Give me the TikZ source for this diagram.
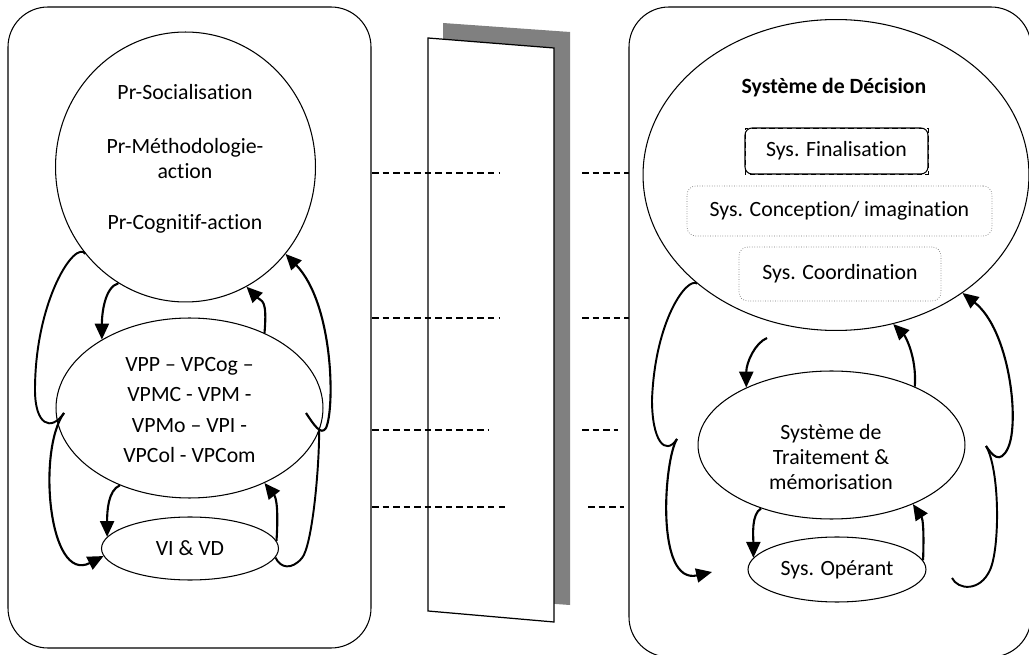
\documentclass[tikz,border=0pt]{standalone}
\usepackage{fontspec}
\setmainfont{Carlito}[Ligatures=NoCommon]
\usetikzlibrary{arrows.meta, shapes.geometric}

\begin{document}
\begin{tikzpicture}[
        x=0.02cm, y=-0.02cm,
        font=\fontsize{12.4}{14.2}\selectfont,
        panel/.style={draw, line width=0.6pt, rounded corners=0.8cm},
        bubble/.style={draw, ellipse, line width=0.6pt, inner sep=0pt, align=center},
        txt/.style={align=center, inner sep=0pt},
        subsys/.style={draw=black!55, densely dotted, line width=0.4pt, rounded corners=5pt, inner sep=0pt},
        flow/.style={line width=1.2pt, -{Triangle[length=9pt,width=8pt]}},
        feedback/.style={line width=1.1pt},
        link/.style={line width=0.9pt, dash pattern=on 3.7pt off 2.3pt}
    ]
    \useasboundingbox (0,0) rectangle (1029,655);
    \clip (0,0) rectangle (1029,655);

    \draw[panel] (8,7) rectangle (371,648);
    \draw[panel] (629,7) rectangle (1031,657);

    \fill[black!50] (443,23) -- (570,32) -- (570,605) -- (443,596) -- cycle;
    \draw[line width=0.7pt, fill=white] (428,38) -- (554,48) -- (554,622) -- (428,611) -- cycle;

    \foreach \y/\xa/\xb/\xc in {173/500/582/629, 318/500/582/629, 430/489/582/618, 507/506/588/624} {
        \draw[link] (372,\y) -- (\xa,\y);
        \draw[link] (\xb,\y) -- (\xc,\y);
    }

    \node[bubble, minimum width=5.2cm, minimum height=5.4cm] (prs) at (185.5,167) {};
    \node[txt] (prs-txt) at (185,159) {Pr-Socialisation\\[16.4pt]Pr-Méthodologie-\\action\\[14.7pt]Pr-Cognitif-action};
    \node[bubble, minimum width=5.34cm, minimum height=3.6cm] (vpp) at (189.5,408) {};
    \node[txt] (vpp-txt) at (189.5,410) {VPP – VPCog –\\[3pt]VPMC - VPM -\\[3pt]VPMo – VPI -\\[3pt]VPCol - VPCom};
    \node[bubble, minimum width=3.54cm, minimum height=1.26cm] (vivd) at (190,548.5) {VI \& VD};

    \node[bubble, minimum width=7.72cm, minimum height=6.22cm] (dec) at (836,175) {};
    \node[txt, font=\fontsize{12.4}{14.2}\selectfont\bfseries] (dec-txt) at (834,88) {Système de Décision};
    \node[draw, rounded corners=4pt, line width=0.6pt, minimum width=3.66cm, minimum height=0.92cm, inner sep=0pt, outer sep=0pt] (fin) at (836.5,151) {Sys. Finalisation};
    \draw[densely dashed, line width=0.5pt] (fin.south west) rectangle (fin.north east);
    \node[subsys, minimum width=6.1cm, minimum height=1cm] (con) at (839.5,211) {Sys. Conception/ imagination};
    \node[subsys, minimum width=4.04cm, minimum height=1.08cm] (coo) at (840,274) {Sys. Coordination};
    \node[bubble, minimum width=5.34cm, minimum height=2.96cm] (trt) at (831.5,445) {};
    \node[txt] (trt-txt) at (831,457) {Système de\\Traitement \&\\mémorisation};
    \node[bubble, minimum width=3.56cm, minimum height=1.3cm] (ope) at (837,569.5) {Sys. Opérant};

    \coordinate (vppW) at (64,413);
    \coordinate (vppE) at (306,413);
    \coordinate (decS) at (767,338);
    \coordinate (trtW) at (677,439);
    \coordinate (trtE) at (986,446);
    \coordinate (opeW) at (712,572);
    \coordinate (opeE) at (952,578);

    \draw[flow] (prs.240) .. controls +(-14,4) and +(0,-25) .. (vpp.142);
    \draw[flow] (vpp.45) .. controls +(3,-35) and +(15,15) .. (prs.297);
    \draw[flow] (vppE) .. controls +(8,12) and +(-5,8) .. (326,428) .. controls +(9,-20) and +(48,50) .. (prs.319);
    \draw[feedback] (prs.221) .. controls +(-10,-15) and +(0,-90) .. (35,390) .. controls +(0,35) and +(-13,19) .. (vppW);
    \draw[flow] (vppW) .. controls +(-27,37) and +(-55,28) .. (vivd.185);
    \draw[flow] (vpp.228) .. controls +(-12,5) and +(0,-25) .. (vivd.172);
    \draw[flow] (vivd.5) .. controls +(2,-30) and +(12,15) .. (vpp.315);
    \draw[feedback] (vivd.354) .. controls +(5,11) and +(-10,12) .. (302,558) .. controls +(10,-12) and +(0,40) .. (vpp.350);

    \draw[flow] (decS) .. controls +(-12,5) and +(0,-25) .. (trt.146);
    \draw[flow] (trt.35) .. controls +(2,-30) and +(12,12) .. (dec.291);
    \draw[feedback] (dec.218) .. controls +(-10,-7) and +(3,-80) .. (652,400) .. controls +(0,40) and +(-12,18) .. (trtW);
    \draw[flow] (trtE) .. controls +(6,9) and +(-8,17) .. (1008,448) .. controls +(12,-26) and +(47,37) .. (dec.317);
    \draw[flow] (trtW) .. controls +(-13,20) and +(-57,13) .. (opeW);
    \draw[flow] (trt.222) .. controls +(-10,6) and +(0,-22) .. (ope.172);
    \draw[flow] (ope.6) .. controls +(1,-30) and +(10,15) .. (trt.324);
    \draw[feedback] (opeE) .. controls +(6,12) and +(-10,22) .. (990,570) .. controls +(10,-22) and +(14,24) .. (trtE);
\end{tikzpicture}
\end{document}
